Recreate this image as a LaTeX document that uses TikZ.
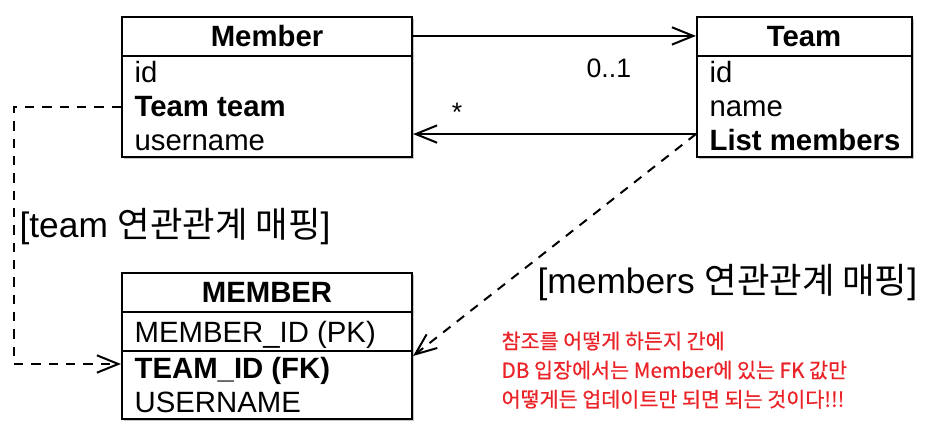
\documentclass[tikz,border=0pt]{standalone}
\usepackage{fontspec}
\setmainfont{Liberation Sans}
\newfontfamily\kr{Noto Sans CJK KR}
\newfontfamily\krnote[FakeBold=0.6]{Noto Sans CJK KR}
\usetikzlibrary{arrows.meta,fit,shadows}
\definecolor{notered}{RGB}{234,35,40}
\begin{document}
\begin{tikzpicture}
  [x=0.75pt,y=-0.75pt,every node/.style={inner sep=1pt}]
  \tikzstyle{box} = [draw,line width=1.6pt,fill=white,inner sep=0pt,
    drop shadow={shadow xshift=1.5pt,shadow yshift=-1.5pt,fill=black!45,opacity=.5}]
  \tikzstyle{field} = [font=\fontsize{22}{26}\selectfont,anchor=base west]
  \tikzstyle{title} = [font=\fontsize{22}{26}\selectfont\bfseries,anchor=base]
  \tikzstyle{assoc} = [line width=1.5pt,-{Straight Barb[length=16pt,width=13pt,line width=1.5pt]}]
  \tikzstyle{mapping} = [assoc,dash pattern=on 7pt off 6pt]
  \tikzstyle{maplabel} = [font=\fontsize{26.5}{30}\selectfont,anchor=base west]
  \useasboundingbox (0,0) rectangle (941,438);

  % entity boxes
  \node[box,fit={(122,17) (412,157)}] (member) {};
  \node[box,fit={(697,17) (912,157)}] (team) {};
  \node[box,fit={(122,273) (412,419)}] (tmember) {};

  \coordinate (msep) at (122,56);
  \coordinate (tsep) at (697,56);
  \coordinate (tbsep) at (122,312);
  \coordinate (tbrow) at (122,351);
  \draw[line width=1.6pt] (msep) -- (msep -| member.east);
  \draw[line width=1.6pt] (tsep) -- (tsep -| team.east);
  \draw[line width=1.6pt] (tbsep) -- (tbsep -| tmember.east);
  \draw[line width=1.6pt] (tbrow) -- (tbrow -| tmember.east);

  \node[title] (memberhd) at (267,47) {Member};
  \node[field] (mid) at (133,83) {id};
  \node[field,font=\fontsize{22}{26}\selectfont\bfseries] (mteam) at (133,117) {Team team};
  \node[field] (mname) at (133,151) {username};

  \node[title] (teamhd) at (804,47) {Team};
  \node[field] (tid) at (708,83) {id};
  \node[field] (tname) at (708,117) {name};
  \node[field,font=\fontsize{22}{26}\selectfont\bfseries] (tlist) at (708,151) {List members};

  \node[title] (tmemberhd) at (267,302) {MEMBER};
  \node[field] (tbid) at (133,342) {MEMBER\_ID (PK)};
  \node[field,font=\fontsize{22}{26}\selectfont\bfseries] (tbteam) at (133,378) {TEAM\_ID (FK)};
  \node[field] (tbname) at (133,412) {USERNAME};

  % associations
  \draw[assoc] ([yshift=-15pt]member.north east) -- ([yshift=-15pt]team.north west);
  \draw[assoc] ([yshift=18pt]team.south west) -- ([yshift=18pt]member.south east);
  \node[font=\fontsize{20}{24}\selectfont,anchor=base west] (one) at (585,78) {0..1};
  \node[font=\fontsize{20}{24}\selectfont] (many) at (457,112) {*};

  % mappings
  \draw[mapping] ([yshift=-15pt]member.west) -- ++(-107,0) |- ([yshift=-13.5pt]tmember.west);
  \draw[mapping] ([yshift=18pt]team.south west) -- ([yshift=-7.5pt]tmember.east);
  \node[maplabel] (teammap) at (18,238) {[team {\kr 연관관계 매핑}]};
  \node[maplabel] (membersmap) at (536,293) {[members {\kr 연관관계 매핑}]};

  \node[text=notered,font=\krnote\fontsize{15.5}{21.8}\selectfont,align=left,anchor=north west]
    (note) at (500,330) {참조를 어떻게 하든지 간에\\DB 입장에서는 Member에 있는 FK 값만\\어떻게든 업데이트만 되면 되는 것이다!!!};

\end{tikzpicture}
\end{document}
